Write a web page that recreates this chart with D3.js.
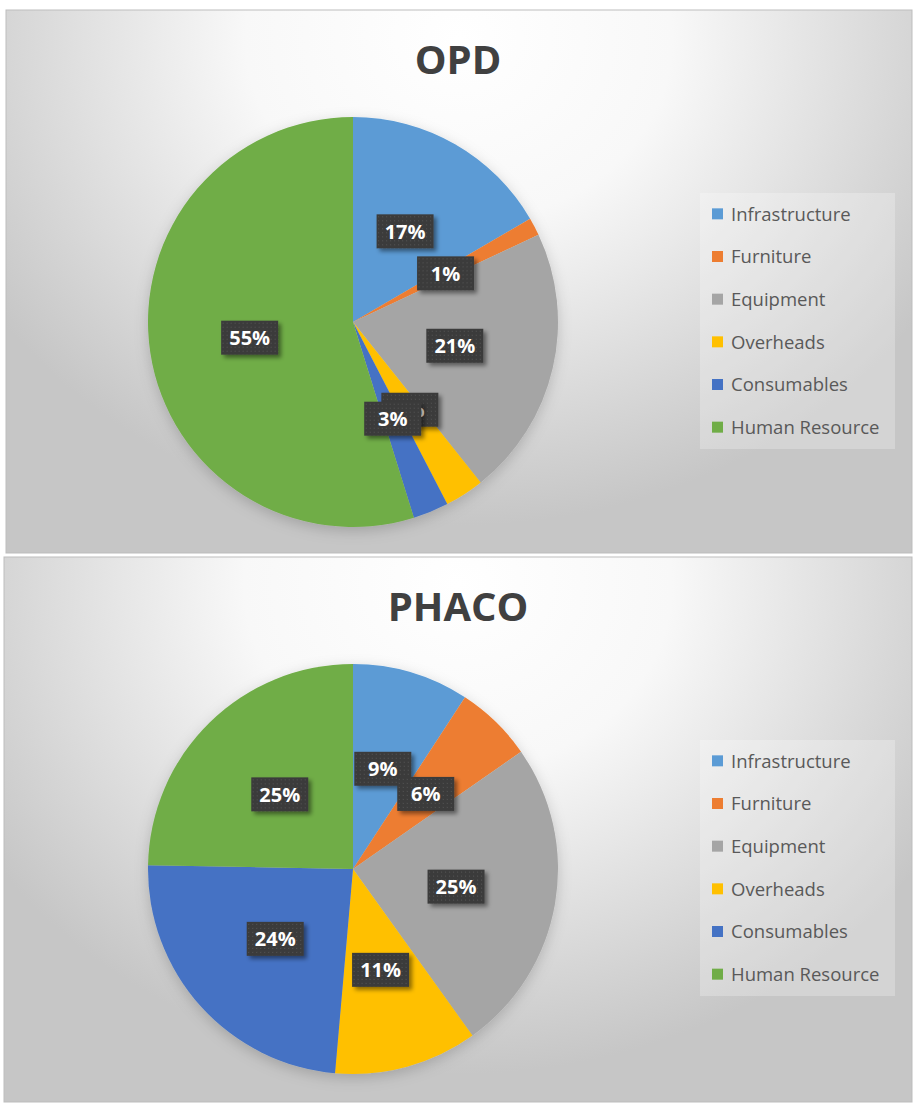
<!DOCTYPE html>
<html>
<head>
<meta charset="utf-8">
<script src="https://cdn.jsdelivr.net/npm/d3@7"></script>
<style>
  body { margin: 0; background: #fff; }
  svg { display: block; }
</style>
</head>
<body>
<div id="app"></div>
<script>
// data
const categories = ['Infrastructure', 'Furniture', 'Equipment', 'Overheads', 'Consumables', 'Human Resource'];
const colors = ['#5B9BD5', '#ED7D31', '#A5A5A5', '#FFC000', '#4472C4', '#70AD47'];
const opdValues = [16.6, 1.4, 21.3, 3.1, 2.8, 54.8];
const phacoValues = [9.2, 6.1, 24.8, 11.3, 23.9, 24.7];
const titles = ['OPD', 'PHACO'];

const W = 913, H = 1104;
const panels = [
  { title: titles[0], values: opdValues, x: 6, y: 10, w: 906, h: 543 },
  { title: titles[1], values: phacoValues, x: 4, y: 557, w: 908, h: 545 }
];

const svg = d3.select('#app').append('svg')
  .attr('width', W)
  .attr('height', H);

const defs = svg.append('defs');

let bg = defs.append('radialGradient')
  .attr('id', 'bg')
  .attr('gradientUnits', 'objectBoundingBox')
  .attr('cx', 0.5).attr('cy', 0.05)
  .attr('fx', 0.5).attr('fy', 0.05)
  .attr('r', 0.62)
  .attr('gradientTransform', 'translate(0.5,0.05) scale(1,1.45) translate(-0.5,-0.05)');
bg.append('stop').attr('offset', '0%').attr('stop-color', '#ffffff');
bg.append('stop').attr('offset', '38%').attr('stop-color', '#f8f8f8');
bg.append('stop').attr('offset', '100%').attr('stop-color', '#c6c6c6');

let pat = defs.append('pattern')
  .attr('id', 'dots')
  .attr('width', 4).attr('height', 4)
  .attr('patternUnits', 'userSpaceOnUse');
pat.append('rect').attr('width', 4).attr('height', 4).attr('fill', '#3b3b3b');
pat.append('rect').attr('x', 1).attr('y', 1).attr('width', 1).attr('height', 1).attr('fill', '#555');

let sh = defs.append('filter').attr('id', 'boxShadow')
  .attr('x', '-30%').attr('y', '-30%').attr('width', '170%').attr('height', '170%');
sh.append('feDropShadow').attr('dx', 3).attr('dy', 3).attr('stdDeviation', 2)
  .attr('flood-color', '#000').attr('flood-opacity', 0.45);

let pieSh = defs.append('filter').attr('id', 'pieShadow')
  .attr('x', '-20%').attr('y', '-20%').attr('width', '140%').attr('height', '140%');
pieSh.append('feDropShadow').attr('dx', 0).attr('dy', 4).attr('stdDeviation', 7)
  .attr('flood-color', '#000').attr('flood-opacity', 0.18);

const pie = d3.pie().sort(null).value(d => d);
const R = 205;
const arc = d3.arc().innerRadius(0).outerRadius(R);
const labelArc = d3.arc().innerRadius(R * 0.51).outerRadius(R * 0.51);

panels.forEach(p => {
  const g = svg.append('g').attr('transform', 'translate(' + p.x + ',' + p.y + ')');

  g.append('rect')
    .attr('width', p.w)
    .attr('height', p.h)
    .attr('fill', 'url(#bg)')
    .attr('stroke', '#bdbdbd')
    .attr('stroke-width', 1);

  g.append('text')
    .attr('x', 458 - p.x)
    .attr('y', 64)
    .attr('text-anchor', 'middle')
    .attr('font-family', '"Open Sans", sans-serif')
    .attr('font-weight', 'bold')
    .attr('font-size', 40)
    .attr('fill', '#404040')
    .text(p.title);

  const cx = 353 - p.x, cy = 312;
  const pg = g.append('g').attr('transform', 'translate(' + cx + ',' + cy + ')');
  const arcs = pie(p.values);

  pg.append('g').attr('filter', 'url(#pieShadow)')
    .selectAll('path')
    .data(arcs)
    .enter().append('path')
    .attr('d', arc)
    .attr('fill', (d, i) => colors[i]);

  const total = d3.sum(p.values);
  const lab = pg.selectAll('g.lab')
    .data(arcs)
    .enter().append('g')
    .attr('class', 'lab')
    .attr('transform', d => 'translate(' + labelArc.centroid(d) + ')');

  lab.append('rect')
    .attr('x', -28.5).attr('y', -17)
    .attr('width', 57).attr('height', 34)
    .attr('fill', 'url(#dots)')
    .attr('filter', 'url(#boxShadow)');

  lab.append('text')
    .attr('text-anchor', 'middle')
    .attr('dy', '0.36em')
    .attr('font-family', '"Open Sans", sans-serif')
    .attr('font-weight', 'bold')
    .attr('font-size', 20)
    .attr('fill', '#ffffff')
    .text(d => Math.round(d.data / total * 100) + '%');

  // legend
  const lg = g.append('g').attr('transform', 'translate(' + (700 - p.x) + ',183)');
  lg.append('rect')
    .attr('width', 195).attr('height', 256)
    .attr('fill', '#ffffff').attr('fill-opacity', 0.25);

  const row = d3.scaleBand().domain(categories).range([0, 256]).padding(0);
  const item = lg.selectAll('g.item')
    .data(categories)
    .enter().append('g')
    .attr('class', 'item')
    .attr('transform', d => 'translate(0,' + (row(d) + row.bandwidth() / 2) + ')');

  item.append('rect')
    .attr('x', 12).attr('y', -6)
    .attr('width', 11).attr('height', 11)
    .attr('fill', (d, i) => colors[i]);

  item.append('text')
    .attr('x', 31)
    .attr('dy', '0.35em')
    .attr('font-family', '"Open Sans", sans-serif')
    .attr('font-size', 18.5)
    .attr('fill', '#595959')
    .text(d => d);
});
</script>
</body>
</html>
